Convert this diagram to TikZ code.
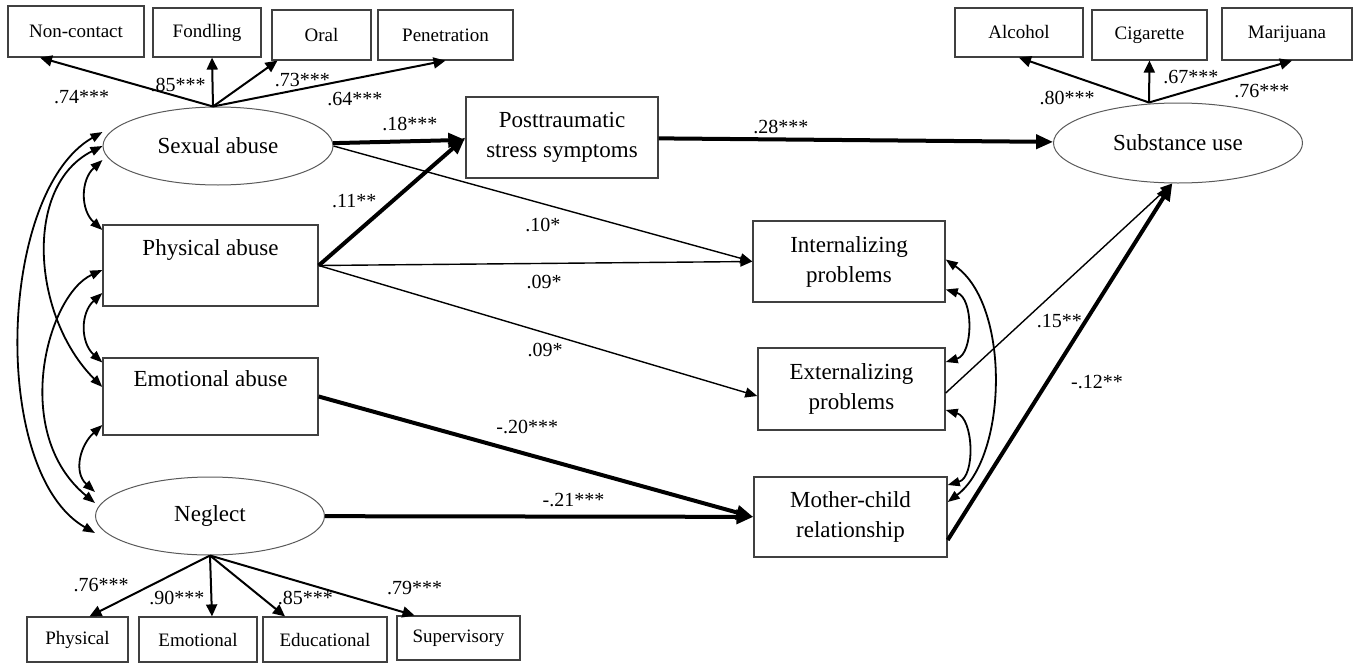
\documentclass[tikz,border=0pt]{standalone}
\usepackage{fontspec}
\setmainfont{Liberation Serif}
\usetikzlibrary{arrows.meta,shapes.geometric}

\begin{document}
\begin{tikzpicture} [
    x=0.5pt, y=-0.5pt,
    auto,
    block/.style    = { rectangle, draw=black!75, line width=0.7pt, text centered,
                        align=center, inner sep=0pt,
                        font=\fontsize{11.5}{15}\selectfont },
    abuse/.style    = { block, text height=8pt, text depth=18pt },
    latent/.style   = { ellipse, draw=black!65, line width=0.5pt, inner sep=0pt,
                        font=\fontsize{11.5}{15}\selectfont },
    indic/.style    = { rectangle, draw=black!75, line width=0.6pt, inner sep=0pt,
                        font=\fontsize{9.5}{11}\selectfont },
    coef/.style     = { inner sep=1pt, font=\fontsize{10}{12}\selectfont },
    line/.style     = { draw, line width=0.7pt, -{Triangle[length=6pt,width=5pt]} },
    heavy/.style    = { draw, line width=2pt, -{Triangle[length=8.5pt,width=7pt]} },
    load/.style     = { draw, line width=1pt, -{Triangle[length=6pt,width=5.5pt]} },
    cov/.style      = { draw, line width=0.9pt,
                        {Triangle[length=6pt,width=4.5pt]}-{Triangle[length=6pt,width=4.5pt]} },
  ]
  \useasboundingbox (0,0) rectangle (1359,664);

  % Define the latent variables and boxes
  \node[latent, minimum width=115pt, minimum height=39pt] (sex) at (218,146) {Sexual abuse};
  \node[abuse, minimum width=107.5pt, minimum height=40.5pt] (phys) at (210.5,265.5) {Physical abuse};
  \node[abuse, minimum width=107.5pt, minimum height=38.5pt] (emo) at (210.5,396.5) {Emotional abuse};
  \node[latent, minimum width=114.5pt, minimum height=39pt] (negl) at (210,516) {Neglect};
  \node[block, minimum width=96pt, minimum height=40.5pt] (ptss) at (562,137.5) {Posttraumatic\\stress symptoms};
  \node[block, minimum width=96pt, minimum height=40.5pt] (intp) at (849,261.5) {Internalizing\\problems};
  \node[block, minimum width=93.5pt, minimum height=41pt] (extp) at (851.5,389) {Externalizing\\problems};
  \node[block, minimum width=96.5pt, minimum height=40pt] (mcr) at (850.5,517) {Mother-child\\relationship};
  \node[latent, minimum width=124.5pt, minimum height=40pt] (subst) at (1178,143) {Substance use};

  % indicators
  \node[indic, minimum width=68pt, minimum height=25.5pt] (nc) at (76,31.5) {Non-contact};
  \node[indic, minimum width=54pt, minimum height=24.5pt] (fond) at (207,32.5) {Fondling};
  \node[indic, minimum width=49.5pt, minimum height=25pt] (oral) at (321.5,35) {Oral};
  \node[indic, minimum width=67.5pt, minimum height=25pt] (pen) at (445.5,35) {Penetration};
  \node[indic, minimum width=64pt, minimum height=24.5pt] (alc) at (1019,32.5) {Alcohol};
  \node[indic, minimum width=57.5pt, minimum height=25pt] (cig) at (1149.5,35) {Cigarette};
  \node[indic, minimum width=65pt, minimum height=26pt] (mar) at (1287,34) {Marijuana};
  \node[indic, minimum width=50.5pt, minimum height=22.5pt] (nphys) at (77.5,639.5) {Physical};
  \node[indic, minimum width=59pt, minimum height=22.5pt] (nemo) at (198,639.5) {Emotional};
  \node[indic, minimum width=62pt, minimum height=22.5pt] (nedu) at (325,639.5) {Educational};
  \node[indic, minimum width=61.5pt, minimum height=22pt] (nsup) at (458.5,638) {Supervisory};

  \coordinate (sextop) at ([xshift=-2.5pt]sex.north);
  \coordinate (subtop) at ([xshift=-14.5pt]subst.north);

  % loadings
		\path [load] (sextop) --node[coef, pos=.76, below=9pt]{.74***} ([xshift=-18pt]nc.south);
		\path [load] (sextop) --node[coef, pos=.44, left=2pt]{.85***} ([xshift=2.5pt]fond.south);
		\path [load] (sextop) --node[coef, pos=.57, right=11pt]{.73***} ([xshift=-22pt]oral.south);
		\path [load] (sextop) --node[coef, pos=.61, below=5.5pt]{.64***} (pen.south);
		\path [load] (subtop) --node[coef, pos=.63, below=7pt]{.80***} (alc.south);
		\path [load] (subtop) --node[coef, pos=.6, right=5.5pt]{.67***} (cig.south);
		\path [load] (subtop) --node[coef, pos=.79, below=6pt]{.76***} ([xshift=2.5pt]mar.south);
		\path [load] (negl.south) --node[coef, pos=.65, above left]{.76***} ([xshift=6pt]nphys.north);
		\path [load] (negl.south) --node[coef, pos=.69, left=2pt]{.90***} ([xshift=7pt]nemo.north);
		\path [load] (negl.south) --node[coef, pos=.69, right=6.5pt]{.85***} ([xshift=-20pt]nedu.north);
		\path [load] (negl.south) --node[coef, pos=1, above=9pt]{.79***} ([xshift=-22pt]nsup.north);

  % connect the nodes
		\path [heavy] (sex) --node[coef, pos=.58, above=3pt]{.18***} (ptss);
		\path [heavy] (phys.east) --node[coef, pos=.42, above left]{.11**} (ptss.west);
		\path [line] (sex.east) --node[coef, pos=.5, below=6pt]{.10*} (intp.west);
		\path [line] (phys.east) --node[coef, pos=.52, below=4.5pt]{.09*} (intp.west);
		\path [line] (phys.east) --node[coef, pos=.516, below=4pt]{.09*} ([yshift=-3.5pt]extp.west);
		\path [heavy] (emo.east) --node[coef, pos=.48, above=8.5pt]{-.20***} (mcr.west);
		\path [heavy] (negl) --node[coef, pos=.58, above=3pt]{-.21***} (mcr);
		\path [heavy] (ptss) --node[coef, pos=.31, above=1pt]{.28***} (subst);
		\path [line] ([yshift=-2pt]extp.east) --node[coef, pos=.39, below right]{.15**} (subst.-98);
		\path [heavy] ([yshift=-11.5pt]mcr.east) --node[coef, pos=.443, right=10pt]{-.12**} (subst.-98);

  % correlations
		\path [cov] ([yshift=-14pt]intp.east) .. controls +(28,8) and +(28,-8) .. ([yshift=13.5pt]extp.east);
		\path [cov] ([yshift=-10.5pt]extp.east) .. controls +(28,8) and +(28,-8) .. ([yshift=16pt]mcr.east);
		\path [cov] ([yshift=1pt]intp.east) .. controls +(65,45) and +(60,-45) .. ([yshift=7.5pt]mcr.east);
		\path [cov] ([yshift=-7pt]sex.west) .. controls +(-22,20) and +(-22,-20) .. ([yshift=17.75pt]phys.west);
		\path [cov] ([yshift=-13.75pt]phys.west) .. controls +(-22,20) and +(-22,-20) .. ([yshift=17pt]emo.west);
		\path [cov] ([yshift=-14.25pt]emo.west) .. controls +(-22,20) and +(-22,-20) .. ([yshift=12pt]negl.west);
		\path [cov] (sex.west) .. controls +(-80,40) and +(-70,-70) .. ([yshift=4.75pt]emo.west);
		\path [cov] ([yshift=-2.25pt]phys.west) .. controls +(-55,25) and +(-85,-70) .. ([yshift=6.5pt]negl.west);
		\path [cov] ([yshift=7pt]sex.west) .. controls +(-105,60) and +(-105,-60) .. ([yshift=-8.5pt]negl.west);
\end{tikzpicture}
\end{document}
